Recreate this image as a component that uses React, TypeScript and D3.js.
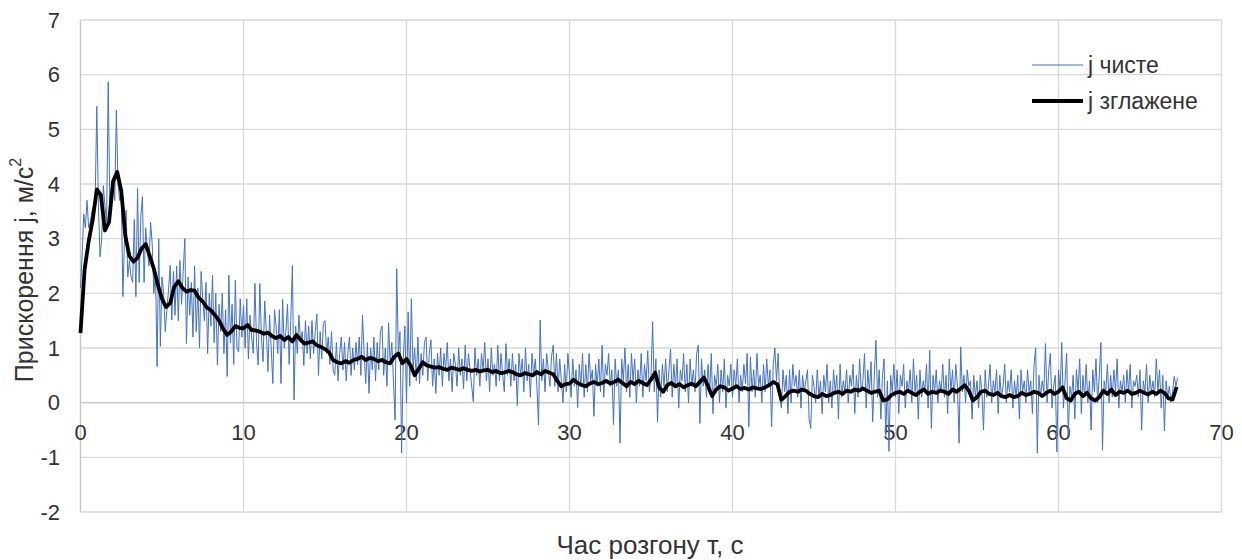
import React from "react";
import * as d3 from "d3";

// raw acceleration, sampled every 0.1 s starting at t = 0
const RAW_DT = 0.1;
const rawValues: number[] = [
  2.1, 2.7, 3.45, 3.2, 3.7, 3.2, 3.3, 3.5, 3.6, 3.7,
  5.42, 3.6, 2.67, 3.0, 3.97, 3.6, 3.3, 5.87, 3.6, 3.9,
  4.1, 3.7, 5.35, 4.0, 3.7, 3.9, 1.94, 3.0, 3.52, 2.3,
  2.6, 2.3, 2.2, 3.35, 1.94, 3.92, 2.2, 3.4, 3.77, 2.2,
  3.2, 2.8, 2.5, 3.3, 2.9, 2.0, 2.4, 0.66, 3.0, 1.03,
  2.3, 2.0, 1.3, 1.7, 2.06, 2.51, 1.51, 2.4, 1.6, 2.5,
  1.5, 2.6, 1.8, 2.4, 3.0, 1.08, 2.3, 1.6, 2.2, 1.2,
  2.5, 1.3, 2.1, 1.0, 2.4, 1.9, 1.5, 2.2, 0.9, 2.0,
  1.4, 2.33, 1.1, 2.0, 0.69, 1.8, 1.3, 2.0, 0.9, 1.7,
  0.48, 2.33, 1.1, 1.8, 0.7, 2.24, 1.0, 0.93, 1.9, 1.2,
  1.78, 1.0, 1.9, 0.8, 1.6, 1.2, 0.9, 2.18, 1.1, 0.69,
  2.18, 1.2, 0.75, 1.86, 1.3, 0.57, 1.6, 1.0, 0.35, 1.7,
  1.4, 0.9, 1.7, 0.35, 1.89, 1.0, 1.3, 1.8, 0.7, 1.5,
  2.51, 0.05, 1.4, 0.9, 1.6, 1.1, 1.3, 0.68, 1.5, 0.9,
  1.4, 0.8, 1.5, 0.9, 1.3, 1.62, 0.5, 1.3, 0.8, 1.45,
  1.5, 0.9, 1.2, 0.7, 1.3, 0.6, 0.5, 1.1, 0.4, 0.9,
  1.2, 0.6, 1.1, 0.4, 0.9, 1.2, 0.5, 1.0, 0.6, 1.1,
  0.7, 1.2, 0.5, 1.6, 0.9, 0.35, 1.1, 0.17, 1.0, 0.6,
  1.2, 0.4, 1.1, 0.6, 1.3, 1.4, 0.5, 1.0, 0.3, 1.46,
  0.7, 1.1, 0.4, -0.32, 2.45, 0.9, 1.3, -0.92, 0.8, 1.4,
  0.0, 1.66, 0.3, 1.9, 0.6, 1.0, 0.4, 1.2, 0.35, 0.9,
  0.5, 1.1, 1.2, 0.4, 0.9, 1.15, 0.3, 0.8, 0.17, 0.9,
  0.5, 1.0, 0.3, 0.9, 0.6, 1.1, 0.4, 0.8, 0.2, 0.9,
  0.7, 0.3, 1.0, 0.5, 0.8, 0.25, 1.05, 0.4, 0.9, 0.6,
  0.3, 0.02, 1.0, 0.5, 0.8, 0.3, 0.9, 0.6, 1.1, 0.4,
  0.8, 0.2, 1.0, 0.5, 0.7, 0.3, 1.05, 0.4, 0.9, 0.5,
  0.2, 1.08, 0.5, 0.8, 0.3, 0.9, 0.4, 0.7, -0.05, 0.9,
  0.5, 0.8, 0.2, 1.0, 0.4, 0.7, 0.1, 0.9, 0.5, 0.8,
  0.3, -0.41, 1.51, 0.4, 0.8, 0.2, 0.9, 0.6, 0.3, 0.85,
  1.05, 0.3, 0.9, 0.2, 0.8, 0.4, 0.0, 0.7, 0.2, 0.9,
  0.5, 0.1, 0.8, 0.3, 0.6, -0.09, 0.7, 0.3, 0.9, 0.1,
  0.7, 0.2, 0.9, 0.4, 0.6, -0.25, 0.7, 0.3, 0.8, 0.2,
  1.05, 0.1, 0.7, 0.5, 0.9, 0.3, 0.6, -0.4, 0.8, 0.3,
  0.6, -0.74, 0.8, 0.4, 1.0, 0.2, 0.7, 0.1, 0.9, 0.4,
  0.8, 0.0, 0.6, 0.3, 0.9, 0.1, 0.7, 0.4, 0.95, 0.2,
  0.5, 1.48, 0.2, 0.8, -0.35, 0.6, 0.1, 0.7, 0.3, 0.8,
  0.2, 0.6, 0.98, 0.1, 0.7, 0.3, 0.8, -0.1, 0.6, 0.4,
  0.9, 0.2, 0.7, 0.0, 0.8, 0.3, 0.6, 0.2, 0.9, 1.05,
  -0.38, 0.8, 0.3, 0.6, 0.1, 0.7, 0.2, 0.9, -0.2, 0.5,
  0.3, 0.7, 0.0, 0.6, 0.2, 0.8, -0.1, 0.5, 0.3, 0.7,
  0.1, 0.6, 0.3, 0.8, 0.0, 0.5, 0.2, 0.7, 0.35, 0.9,
  -0.44, 0.84, 0.2, 0.6, 0.1, 0.9, 0.3, 0.5, 0.0, 0.7,
  0.2, 0.8, 0.3, 0.6, -0.44, 0.7, 1.0, 0.4, 0.9, 0.1,
  -0.1, 0.6, 0.2, 0.5, -0.2, 0.6, 0.0, 0.7, 0.3, 0.5,
  0.1, 0.6, -0.1, 0.5, 0.2, 0.4, 0.6, -0.3, -0.47, 0.5,
  0.3, 0.0, 0.6, 0.1, 0.4, -0.2, 0.5, 0.2, 0.7, 0.0,
  0.4, -0.1, 0.6, 0.2, 0.5, -0.3, 0.7, 0.1, 0.4, 0.2,
  0.6, 0.0, 0.5, 0.3, 0.7, -0.2, 0.5, 0.1, 0.8, 0.2,
  0.4, 0.9, -0.1, 0.6, 0.2, 0.75, -0.35, 0.5, 1.14, 0.1,
  0.6, -0.3, 0.5, 0.8, -0.6, 0.4, -0.89, 0.5, 0.2, 0.7,
  0.1, 0.6, -0.2, 0.5, 0.3, 0.7, -0.1, 0.4, 0.2, 0.6,
  0.0, 0.8, 0.2, 0.5, -0.3, 0.6, 0.1, 0.4, 0.2, 0.7,
  -0.1, 0.96, -0.47, 0.5, 0.2, 0.6, 0.0, 0.4, 0.2, 0.7,
  0.1, 0.5, -0.2, 0.8, 0.2, 0.6, 0.0, 0.7, 0.3, -0.74,
  1.02, 0.2, 0.5, 0.0, 0.6, 0.3, 0.4, -0.3, 0.5, 0.1,
  0.4, -0.1, 0.5, 0.2, -0.5, 0.6, 0.1, 0.3, 0.7, 0.0,
  0.4, 0.2, 0.6, -0.2, 0.5, 0.1, 0.3, 0.7, 0.0, 0.4,
  0.2, 0.6, -0.1, 0.4, 0.1, 0.5, -0.3, 0.6, 0.2, 0.4,
  0.0, 0.6, 0.2, 0.4, -0.2, 0.7, 1.0, -0.92, 0.5, 0.1,
  0.4, 0.2, 1.08, 0.0, 0.6, 0.9, -0.1, 0.3, 0.5, -0.9,
  0.6, 0.2, 1.1, -0.1, 0.4, 0.9, -0.6, 0.3, 0.1, 0.5,
  -0.3, 0.6, 0.2, 0.8, -0.2, 0.5, 0.1, 0.7, 0.0, 0.4,
  -0.5, 0.6, 0.2, 0.8, 0.0, 0.5, 1.1, -0.87, 0.4, 0.2,
  0.7, 0.0, 0.5, 0.1, 0.6, 0.2, 0.8, -0.1, 0.4, 0.2,
  0.5, 0.0, 0.6, 0.2, 0.7, -0.1, 0.4, 0.3, 0.5, 0.1,
  0.6, -0.5, 0.4, 0.2, 0.7, 0.0, 0.5, 0.2, 0.4, 0.1,
  0.8, 0.2, 0.6, -0.1, 0.5, -0.52, 0.4, 0.1, 0.3, 0.0,
  0.2, 0.48, 0.3, 0.45,
];

// smoothed acceleration, sampled every 0.25 s starting at t = 0
const SMOOTH_DT = 0.25;
const smoothValues: number[] = [
  1.27, 2.43, 2.95, 3.35, 3.9, 3.8, 3.15, 3.3, 4.05, 4.22, 3.88, 3.05,
  2.68, 2.58, 2.65, 2.82, 2.9, 2.68, 2.45, 2.15, 1.9, 1.75, 1.82, 2.12,
  2.22, 2.1, 2.03, 2.06, 2.05, 1.92, 1.85, 1.74, 1.69, 1.6, 1.5, 1.35,
  1.24, 1.3, 1.4, 1.37, 1.36, 1.42, 1.33, 1.32, 1.3, 1.26, 1.28, 1.22,
  1.18, 1.22, 1.15, 1.2, 1.12, 1.24, 1.15, 1.08, 1.1, 1.12, 1.05, 1.02,
  0.98, 0.92, 0.78, 0.74, 0.72, 0.76, 0.73, 0.78, 0.8, 0.84, 0.78, 0.82,
  0.8, 0.76, 0.78, 0.74, 0.72, 0.84, 0.9, 0.72, 0.8, 0.68, 0.5, 0.62,
  0.74, 0.68, 0.66, 0.64, 0.65, 0.62, 0.6, 0.64, 0.62, 0.6, 0.63, 0.6,
  0.58, 0.6, 0.57, 0.59, 0.6, 0.56, 0.58, 0.54, 0.55, 0.58, 0.56, 0.52,
  0.5, 0.54, 0.52, 0.5, 0.56, 0.52, 0.58, 0.55, 0.52, 0.4, 0.3, 0.34,
  0.35, 0.42, 0.36, 0.32, 0.3, 0.35, 0.38, 0.34, 0.36, 0.4, 0.35, 0.38,
  0.42, 0.36, 0.3, 0.38, 0.34, 0.4, 0.36, 0.32, 0.42, 0.55, 0.28, 0.2,
  0.32, 0.36, 0.3, 0.34, 0.28, 0.32, 0.35, 0.3, 0.38, 0.46, 0.3, 0.12,
  0.24, 0.3, 0.28, 0.22, 0.26, 0.3, 0.25, 0.27, 0.24, 0.28, 0.26, 0.25,
  0.28, 0.32, 0.38, 0.34, 0.05, 0.12, 0.2, 0.22, 0.2, 0.24, 0.22, 0.16,
  0.12, 0.1, 0.16, 0.12, 0.14, 0.18, 0.2, 0.16, 0.22, 0.2, 0.24, 0.22,
  0.26, 0.22, 0.18, 0.2, 0.22, 0.04, 0.06, 0.14, 0.18, 0.2, 0.16, 0.22,
  0.18, 0.14, 0.2, 0.24, 0.16, 0.2, 0.18, 0.22, 0.2, 0.16, 0.24, 0.2,
  0.26, 0.32, 0.22, 0.04, 0.1, 0.2, 0.22, 0.16, 0.14, 0.18, 0.12, 0.1,
  0.14, 0.1, 0.12, 0.18, 0.14, 0.16, 0.2, 0.18, 0.12, 0.18, 0.22, 0.16,
  0.2, 0.28, 0.08, 0.04, 0.16, 0.2, 0.12, 0.18, 0.08, 0.04, 0.1, 0.22,
  0.16, 0.24, 0.14, 0.2, 0.18, 0.22, 0.16, 0.18, 0.22, 0.18, 0.15, 0.2,
  0.16, 0.22, 0.18, 0.08, 0.06, 0.29,
];

const xTicks = [0, 10, 20, 30, 40, 50, 60, 70];
const yTicks = [-2, -1, 0, 1, 2, 3, 4, 5, 6, 7];
const seriesNames = ["j чисте", "j зглажене"];
const xTitle = "Час розгону т, с";
const yTitle = "Прискорення j, м/с";

const W = 1242;
const H = 560;
const FONT = "'Liberation Sans', Arial, sans-serif";

export default function App() {
  const x = d3.scaleLinear().domain([0, 70]).range([80.5, 1221.5]);
  const y = d3.scaleLinear().domain([-2, 7]).range([512, 20]);

  const raw = rawValues.map((v, i) => [i * RAW_DT, v] as [number, number]);
  const smooth = smoothValues.map((v, i) => [i * SMOOTH_DT, v] as [number, number]);

  const line = d3
    .line<[number, number]>()
    .x((d) => x(d[0]))
    .y((d) => y(d[1]));

  const grid = "#d9d9d9";
  const textCol = "#333333";

  return (
    <svg
      width={W}
      height={H}
      style={{ position: "absolute", left: 0, top: 0, background: "#fff" }}
      fontFamily={FONT}
    >
      <rect x={0} y={0} width={W} height={H} fill="#fff" />
      {/* gridlines */}
      {yTicks.map((t) => (
        <line
          key={"gy" + t}
          x1={x(0)}
          x2={x(70)}
          y1={y(t)}
          y2={y(t)}
          stroke={grid}
          strokeWidth={1.3}
        />
      ))}
      {xTicks.map((t) => (
        <line
          key={"gx" + t}
          x1={x(t)}
          x2={x(t)}
          y1={y(7)}
          y2={y(-2)}
          stroke={grid}
          strokeWidth={1.3}
        />
      ))}
      {/* zero axis */}
      <line x1={x(0)} x2={x(70)} y1={y(0)} y2={y(0)} stroke="#c8c8c8" strokeWidth={1.3} />
      <line x1={x(0)} x2={x(0)} y1={y(7)} y2={y(-2)} stroke="#c8c8c8" strokeWidth={1.3} />

      {/* y tick labels */}
      {yTicks.map((t) => (
        <text
          key={"ty" + t}
          x={60}
          y={y(t)}
          textAnchor="end"
          dominantBaseline="central"
          fontSize={22}
          fill={textCol}
        >
          {t}
        </text>
      ))}
      {/* x tick labels */}
      {xTicks.map((t) => (
        <text
          key={"tx" + t}
          x={x(t)}
          y={y(0) + 30}
          textAnchor="middle"
          dominantBaseline="central"
          fontSize={22}
          fill={textCol}
        >
          {t}
        </text>
      ))}

      {/* series */}
      <path d={line(raw) || ""} fill="none" stroke="#4472C4" strokeWidth={1} strokeLinejoin="round" />
      <path d={line(smooth) || ""} fill="none" stroke="#000" strokeWidth={3.8} strokeLinejoin="round" />

      {/* legend */}
      <line x1={1032} x2={1083} y1={65} y2={65} stroke="#4472C4" strokeWidth={1} />
      <text x={1088} y={65} dominantBaseline="central" fontSize={23} fill={textCol}>
        {seriesNames[0]}
      </text>
      <line x1={1032} x2={1083} y1={101} y2={101} stroke="#000" strokeWidth={3.8} />
      <text x={1088} y={101} dominantBaseline="central" fontSize={23} fill={textCol}>
        {seriesNames[1]}
      </text>

      {/* axis titles */}
      <text x={650} y={545} textAnchor="middle" dominantBaseline="central" fontSize={26} fill={textCol}>
        {xTitle}
      </text>
      <text
        transform={`translate(24, 270) rotate(-90)`}
        textAnchor="middle"
        dominantBaseline="central"
        fontSize={25}
        fill={textCol}
      >
        {yTitle}
        <tspan dy={-9} fontSize={16}>2</tspan>
      </text>
    </svg>
  );
}
